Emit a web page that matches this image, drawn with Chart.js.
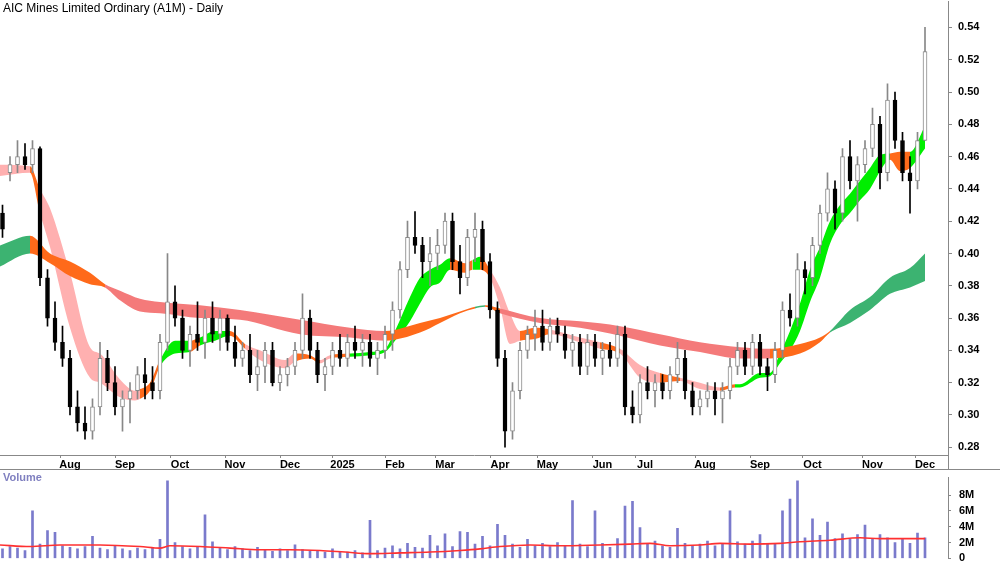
<!DOCTYPE html>
<html><head><meta charset="utf-8">
<script src="https://cdn.jsdelivr.net/npm/chart.js@4/dist/chart.umd.min.js"></script>
<style>
body{margin:0;background:#fff;width:1000px;height:562px;overflow:hidden;position:relative;font-family:Arial,"Liberation Sans",sans-serif}
#c1{position:absolute;left:0;top:-11px}
#c2{position:absolute;left:0;top:463px}
.t{position:absolute;font-size:12px;color:#000}
.ln{position:absolute;background:#888}
</style></head><body>
<div class="ln" style="left:0;top:469px;width:1000px;height:1px"></div>
<div class="ln" style="left:948px;top:455px;width:1px;height:15px"></div>
<canvas id="c1" width="1000" height="481"></canvas>
<canvas id="c2" width="1000" height="110"></canvas>
<div class="t" style="left:3px;top:1px">AIC Mines Limited Ordinary (A1M) - Daily</div>
<div class="t" style="left:3px;top:471px;color:#8080c0;font-weight:bold;font-size:11px">Volume</div>
<script>
// ---- data ----
const monthDays=[24,46,68,90,112,133,154,174,196,215,237,254,278,300,321,345,366];
const monthLabels=['Aug','Sep','Oct','Nov','Dec','2025','Feb','Mar','Apr','May','Jun','Jul','Aug','Sep','Oct','Nov','Dec'];
const priceTicks=[0.28,0.30,0.32,0.34,0.36,0.38,0.40,0.42,0.44,0.46,0.48,0.50,0.52,0.54];
const volTicks=[0,2,4,6,8];
const opens=[.425,.45,.455,.46,.455,.465,.385,.36,.345,.335,.305,.295,.29,.305,.335,.32,.305,.31,.315,.325,.32,.315,.345,.37,.36,.34,.35,.345,.36,.35,.36,.345,.335,.34,.325,.33,.34,.32,.325,.33,.34,.36,.34,.325,.33,.34,.335,.345,.34,.345,.335,.34,.35,.365,.39,.41,.405,.395,.4,.405,.42,.395,.385,.41,.415,.395,.365,.335,.29,.315,.34,.35,.355,.345,.355,.35,.34,.345,.33,.345,.335,.34,.335,.35,.305,.3,.32,.315,.32,.315,.325,.335,.315,.305,.31,.315,.31,.315,.33,.34,.33,.345,.33,.325,.34,.365,.36,.39,.385,.405,.425,.44,.425,.46,.445,.455,.465,.48,.45,.495,.47,.45,.445,.47];
const highs=[.43,.46,.47,.468,.47,.466,.39,.37,.355,.34,.315,.305,.31,.345,.34,.33,.315,.32,.33,.335,.33,.35,.40,.38,.365,.355,.37,.365,.37,.365,.362,.355,.345,.35,.34,.345,.345,.33,.335,.345,.375,.365,.345,.335,.345,.35,.35,.355,.35,.35,.345,.355,.37,.395,.42,.426,.41,.41,.415,.425,.425,.405,.415,.425,.42,.40,.37,.34,.32,.345,.355,.365,.365,.36,.36,.355,.35,.35,.35,.35,.345,.345,.355,.355,.315,.325,.33,.325,.325,.33,.345,.34,.32,.315,.32,.32,.32,.335,.345,.345,.35,.35,.335,.345,.37,.375,.40,.395,.41,.43,.45,.445,.465,.47,.46,.47,.49,.485,.505,.50,.475,.46,.475,.54];
const lows=[.41,.445,.45,.452,.45,.38,.355,.34,.33,.30,.29,.285,.285,.30,.315,.30,.29,.295,.31,.31,.31,.31,.34,.355,.335,.33,.34,.335,.345,.34,.34,.33,.33,.32,.315,.32,.318,.315,.318,.325,.335,.335,.32,.315,.325,.33,.33,.335,.33,.33,.325,.335,.34,.36,.385,.40,.385,.38,.39,.40,.39,.375,.38,.395,.39,.36,.33,.28,.285,.31,.335,.34,.34,.34,.345,.335,.33,.325,.325,.33,.325,.33,.33,.30,.295,.295,.31,.305,.31,.31,.32,.31,.30,.30,.305,.30,.295,.31,.325,.325,.325,.325,.315,.32,.335,.355,.355,.375,.38,.40,.42,.415,.42,.44,.42,.45,.46,.44,.445,.465,.445,.425,.44,.47];
const closes=[.415,.455,.46,.455,.465,.385,.36,.345,.335,.305,.295,.29,.305,.335,.32,.305,.31,.315,.325,.32,.315,.345,.37,.36,.34,.35,.345,.36,.35,.36,.345,.335,.34,.325,.33,.34,.32,.325,.33,.34,.36,.34,.325,.33,.34,.335,.345,.34,.345,.335,.34,.35,.365,.39,.41,.405,.395,.40,.405,.42,.395,.385,.41,.415,.395,.365,.335,.29,.315,.34,.35,.355,.345,.355,.35,.34,.345,.33,.345,.335,.34,.335,.35,.305,.30,.32,.315,.32,.315,.325,.335,.315,.305,.31,.315,.31,.315,.33,.34,.33,.345,.33,.325,.34,.365,.36,.39,.385,.405,.425,.44,.425,.46,.445,.455,.465,.48,.45,.495,.47,.45,.445,.47,.525];
const volumes=[1.2,1.5,1.3,1.0,6.0,1.8,3.5,3.3,1.6,1.4,1.2,1.5,2.8,1.3,1.1,1.6,1.2,1.0,1.3,1.1,1.4,2.4,9.8,2.0,1.5,1.2,1.4,5.5,2.1,1.3,1.1,1.5,1.2,1.0,1.4,1.1,0.9,1.2,1.0,1.7,1.1,0.9,1.0,0.8,1.2,0.9,0.8,1.0,0.7,4.8,1.0,1.3,1.6,1.2,1.9,1.4,1.3,2.9,1.6,3.1,1.5,3.4,3.3,1.8,2.8,1.6,4.3,2.9,1.8,1.4,2.4,1.6,1.9,1.5,2.0,1.6,7.3,1.8,1.5,6.0,1.9,1.4,2.5,6.6,7.2,3.9,1.8,2.2,1.6,1.4,3.8,1.9,1.6,1.8,2.2,1.6,1.9,6.0,2.1,1.8,2.2,3.0,1.8,1.9,6.0,7.5,9.8,2.6,5.0,2.9,4.6,2.5,3.1,2.4,3.0,4.2,2.5,3.0,2.6,2.0,2.4,1.9,3.2,2.6];
// short-term MA ribbon
const sDays=[0,12,16,20,28,36,40,48,54,56,60,64,70,76,80,86,92,98,104,114,118,124,128,132,140,148,154,158,164,168,172,176,180,186,189,192,196,200,204,208,214,220,232,240,248,256,264,272,280,288,294,296,304,308,312,316,320,324,328,332,336,340,344,348,352,356,360,364,370];
const sUp=[.455,.454,.44,.428,.388,.342,.338,.322,.315,.316,.32,.334,.346,.346,.348,.352,.352,.344,.340,.334,.338,.337,.334,.337,.338,.339,.341,.352,.373,.385,.39,.393,.397,.394,.396,.398,.39,.379,.363,.352,.354,.353,.348,.345,.341,.331,.326,.323,.32,.317,.319,.319,.326,.326,.338,.352,.369,.39,.404,.42,.43,.437,.445,.453,.461,.462,.463,.463,.479];
const sLo=[.448,.45,.425,.404,.354,.323,.32,.311,.309,.31,.315,.33,.338,.339,.343,.346,.349,.341,.334,.329,.333,.335,.332,.335,.336,.337,.339,.346,.358,.369,.379,.382,.39,.388,.39,.39,.385,.367,.344,.346,.347,.35,.345,.341,.338,.323,.32,.321,.316,.315,.317,.317,.323,.324,.332,.34,.352,.37,.385,.406,.418,.425,.433,.44,.451,.458,.451,.453,.465];
const sState=['dn','x','dn','dn','dn','dn','dn','dn','dn','x','x','up','up','x','up','up','x','dn','dn','dn','x','x','dn','x','up','up','up','up','up','up','up','up','x','x','up','x','dn','dn','dn','x','x','dn','dn','x','dn','dn','x','dn','dn','x','up','up','up','up','up','up','up','up','up','up','up','up','up','up','up','x','x','up','up'];
// long-term MA ribbon
const lDays=[0,12,20,28,36,42,48,56,64,80,96,120,140,154,168,176,184,190,194,200,216,232,248,264,280,296,308,320,328,332,340,348,356,364,370];
const lUp=[.405,.411,.4,.395,.388,.381,.377,.372,.37,.368,.365,.359,.354,.352,.357,.36,.364,.367,.368,.366,.36,.358,.355,.35,.345,.342,.341,.344,.348,.352,.365,.373,.385,.391,.40];
const lLo=[.392,.40,.394,.386,.381,.379,.371,.364,.363,.36,.359,.35,.348,.346,.351,.357,.363,.366,.367,.363,.357,.354,.349,.343,.339,.335,.335,.338,.345,.351,.357,.365,.375,.379,.383];
const lState=['up','x','x','x','x','dn','dn','dn','dn','dn','dn','dn','dn','x','x','x','x','up','x','dn','dn','dn','dn','dn','dn','dn','x','x','x','up','up','up','up','up','up'];
// volume average
const vaDays=[0,12,24,40,56,64,68,80,92,104,116,128,138,148,160,172,184,192,200,212,224,240,252,260,268,280,288,300,312,320,332,344,352,370];
const vaVals=[1.7,1.5,1.7,1.7,1.5,1.3,1.6,1.5,1.3,1.1,1.1,1.0,0.8,0.6,0.7,0.8,1.0,1.2,1.5,1.7,1.6,1.7,1.8,1.9,1.6,1.7,1.9,1.8,1.9,2.1,2.3,2.6,2.5,2.5];

// ---- build ----
const candleDay=i=>1+3*i;
const wick=[],body=[],wickCol=[],bodyFill=[],bodyEdge=[],vol=[];
opens.forEach((o,i)=>{
  const c=closes[i],up=c>=o;
  wick.push({x:candleDay(i),y:[lows[i],highs[i]]});
  body.push({x:candleDay(i),y:[Math.min(o,c),Math.max(o,c)]});
  wickCol.push(up?'#888':'#000');bodyFill.push(up?'#fff':'#000');bodyEdge.push(up?'#888':'#000');
  vol.push({x:candleDay(i),y:volumes[i]});
});
const sCol={up:'#00ee00',dn:'#ffb0b0',x:'#ff6a1a'};
const lCol={up:'#3cb371',dn:'#f47a7a',x:'#ff6a1a'};
function ribbon(days,up,lo,st,cmap){
  return [{type:'line',data:days.map((d,i)=>({x:d,y:up[i]})),borderWidth:0,pointRadius:0,cubicInterpolationMode:'monotone',
    fill:'+1',backgroundColor:cmap[st[0]],segment:{backgroundColor:ctx=>cmap[st[ctx.p0DataIndex]]},order:10},
   {type:'line',data:days.map((d,i)=>({x:d,y:lo[i]})),borderWidth:0,pointRadius:0,cubicInterpolationMode:'monotone',fill:false,order:10}];
}
const xMax=948/2.5;
const xScale={type:'linear',min:0,max:xMax,offset:false,
  afterBuildTicks:s=>{s.ticks=monthDays.map(v=>({value:v}));},
  afterFit:s=>{s.height=15;},
  ticks:{callback:(v)=>monthLabels[monthDays.indexOf(v)],labelOffset:10,padding:0,color:'#000',font:{size:11,weight:'bold',family:'Arial'},maxRotation:0,autoSkip:false},
  grid:{drawOnChartArea:false,tickLength:3,color:'#888',offset:false},border:{color:'#888'}};
new Chart(document.getElementById('c1'),{
  type:'bar',
  data:{datasets:[
    ...ribbon(lDays,lUp,lLo,lState,lCol),
    ...ribbon(sDays,sUp,sLo,sState,sCol),
    {type:'bar',data:wick,backgroundColor:wickCol,barThickness:1,grouped:false,order:2},
    {type:'bar',data:body,backgroundColor:bodyFill,borderColor:bodyEdge,borderWidth:1,borderSkipped:false,barThickness:4,minBarLength:1,grouped:false,order:1}
  ]},
  options:{responsive:false,animation:false,layout:{padding:0},
    plugins:{legend:{display:false},tooltip:{enabled:false}},
    scales:{x:xScale,
      y:{position:'right',min:0.2752,max:0.556,
        afterBuildTicks:s=>{s.ticks=priceTicks.map(v=>({value:v}));},
        afterFit:s=>{s.width=52;},
        ticks:{callback:v=>v.toFixed(2),color:'#000',font:{size:11,weight:'bold',family:'Arial'},padding:6},
        grid:{drawOnChartArea:false,tickLength:4,color:'#888'},border:{color:'#888'}}}}
});
new Chart(document.getElementById('c2'),{
  type:'bar',
  data:{datasets:[
    {type:'line',data:vaDays.map((d,i)=>({x:d,y:vaVals[i]})),borderColor:'#ff3030',borderWidth:1.6,pointRadius:0,cubicInterpolationMode:'monotone',order:0},
    {type:'bar',data:vol,backgroundColor:'#7a7acc',barThickness:2,grouped:false,order:1}
  ]},
  options:{responsive:false,animation:false,layout:{padding:0},
    plugins:{legend:{display:false},tooltip:{enabled:false}},
    scales:{x:{type:'linear',min:0,max:xMax,offset:false,display:false},
      y:{position:'right',min:0,max:10.2,
        afterBuildTicks:s=>{s.ticks=volTicks.map(v=>({value:v}));},
        afterFit:s=>{s.width=52;},
        ticks:{callback:v=>v===0?'0':v+'M',color:'#000',font:{size:11,weight:'bold',family:'Arial'},padding:8},
        grid:{drawOnChartArea:false,tickLength:3,color:'#888'},border:{color:'#888'}}}}
});
</script></body></html>
